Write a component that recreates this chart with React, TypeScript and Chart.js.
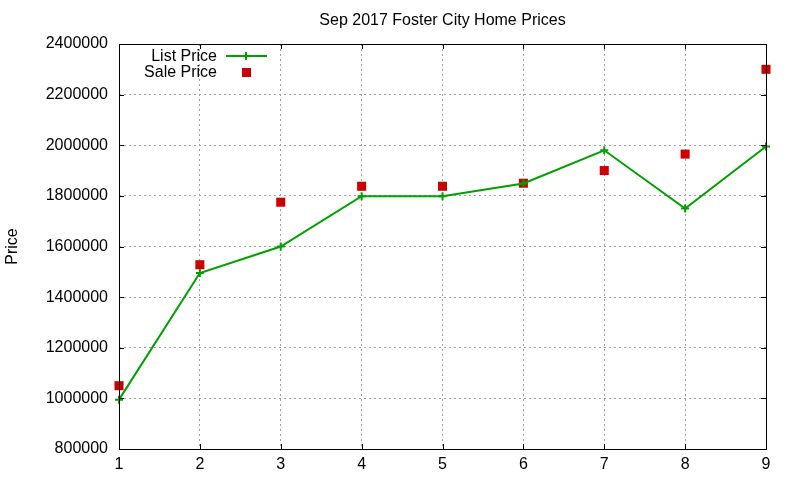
import { useEffect, useRef } from 'react'
import { Chart, registerables, type Plugin } from 'chart.js'

Chart.register(...registerables)

const homeIndex = [1, 2, 3, 4, 5, 6, 7, 8, 9]
const listPrice = [995000, 1495000, 1600000, 1799000, 1799000, 1849000, 1980000, 1750000, 1995000]
const salePrice = [1050000, 1528000, 1775000, 1838000, 1838000, 1850000, 1900000, 1965000, 2300000]

const titleText = 'Sep 2017 Foster City Home Prices'
const seriesNames = ['List Price', 'Sale Price']

const FONT = '"Liberation Sans", Arial, sans-serif'
const GREEN = '#00a000'
const RED = '#cc0000'

// gnuplot-like frame, inward ticks, title and key inside the plot
const gnuplotDecor: Plugin<'line'> = {
  id: 'gnuplotDecor',
  afterDraw(chart) {
    const { ctx, chartArea } = chart
    const { left, right, top, bottom } = chartArea
    const xs = chart.scales.x
    const ys = chart.scales.y
    ctx.save()
    ctx.strokeStyle = '#000'
    ctx.lineWidth = 1
    ctx.beginPath()
    ys.ticks.forEach((t) => {
      const y = Math.round(ys.getPixelForValue(t.value)) + 0.5
      ctx.moveTo(left, y)
      ctx.lineTo(left + 5, y)
      ctx.moveTo(right, y)
      ctx.lineTo(right - 5, y)
    })
    xs.ticks.forEach((t) => {
      const x = Math.round(xs.getPixelForValue(t.value)) + 0.5
      ctx.moveTo(x, bottom)
      ctx.lineTo(x, bottom - 5)
      ctx.moveTo(x, top)
      ctx.lineTo(x, top + 5)
    })
    ctx.stroke()
    ctx.strokeRect(Math.round(left) + 0.5, Math.round(top) + 0.5, Math.round(right - left), Math.round(bottom - top))

    ctx.fillStyle = '#000'
    ctx.font = `16px ${FONT}`
    ctx.textBaseline = 'middle'
    ctx.textAlign = 'center'
    ctx.fillText(titleText, (left + right) / 2, 21)

    // key
    ctx.textAlign = 'right'
    ctx.fillText(seriesNames[0], left + 98, top + 13)
    ctx.fillText(seriesNames[1], left + 98, top + 29)
    ctx.strokeStyle = GREEN
    ctx.lineWidth = 2
    ctx.beginPath()
    ctx.moveTo(left + 107, top + 12)
    ctx.lineTo(left + 148, top + 12)
    ctx.moveTo(left + 127, top + 8)
    ctx.lineTo(left + 127, top + 16)
    ctx.stroke()
    ctx.fillStyle = RED
    ctx.fillRect(left + 123, top + 24, 9, 9)
    ctx.restore()
  },
}

export default function App() {
  const canvasRef = useRef<HTMLCanvasElement | null>(null)
  const chartRef = useRef<Chart<'line'> | null>(null)

  useEffect(() => {
    const canvas = canvasRef.current
    if (!canvas) return
    chartRef.current?.destroy()

    chartRef.current = new Chart(canvas, {
      type: 'line',
      data: {
        datasets: [
          {
            label: seriesNames[0],
            data: homeIndex.map((x, i) => ({ x, y: listPrice[i] })),
            borderColor: GREEN,
            backgroundColor: GREEN,
            borderWidth: 2,
            pointStyle: 'cross',
            pointRadius: 4,
            pointBorderWidth: 2,
            tension: 0,
            clip: false,
          },
          {
            label: seriesNames[1],
            data: homeIndex.map((x, i) => ({ x, y: salePrice[i] })),
            showLine: false,
            borderColor: RED,
            backgroundColor: RED,
            pointStyle: 'rect',
            pointRadius: 6.4,
            pointBorderWidth: 0,
            clip: false,
          },
        ],
      },
      options: {
        animation: false,
        responsive: true,
        maintainAspectRatio: false,
        layout: { padding: { top: 44, right: 34, left: 0, bottom: 0 } },
        plugins: {
          legend: { display: false },
          title: { display: false },
          tooltip: { enabled: false },
        },
        scales: {
          x: {
            type: 'linear',
            min: 1,
            max: 9,
            afterFit: (s) => {
              s.height = 31
            },
            border: { display: false, dash: [2, 3] },
            grid: { color: '#a0a0a0', lineWidth: 1, drawTicks: false },
            ticks: {
              stepSize: 1,
              padding: 6,
              color: '#000',
              font: { family: FONT, size: 16 },
            },
          },
          y: {
            type: 'linear',
            min: 800000,
            max: 2400000,
            afterFit: (s) => {
              s.width = 119
            },
            border: { display: false, dash: [2, 3] },
            grid: { color: '#a0a0a0', lineWidth: 1, drawTicks: false },
            title: {
              display: true,
              text: 'Price',
              color: '#000',
              padding: { top: 3, bottom: 0 },
              font: { family: FONT, size: 16 },
            },
            ticks: {
              stepSize: 200000,
              padding: 11,
              color: '#000',
              font: { family: FONT, size: 16 },
              callback: (v) => String(v),
            },
          },
        },
      },
      plugins: [gnuplotDecor],
    })

    return () => {
      chartRef.current?.destroy()
      chartRef.current = null
    }
  }, [])

  return (
    <div style={{ position: 'fixed', left: 0, top: 0, width: 800, height: 480, background: '#fff' }}>
      <canvas ref={canvasRef} />
    </div>
  )
}
